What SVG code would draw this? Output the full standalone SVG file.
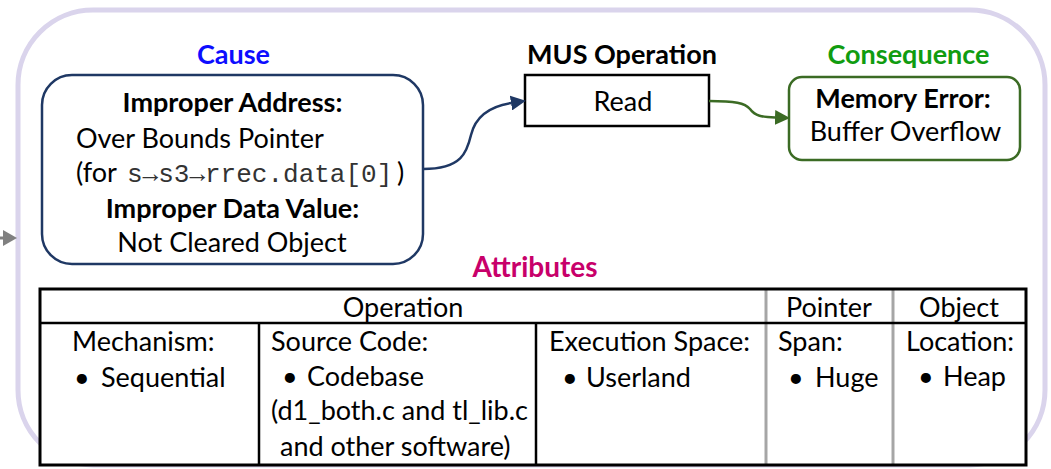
<svg xmlns="http://www.w3.org/2000/svg" width="1051" height="469" viewBox="0 0 1051 469">
  <style>
    text { font-family: Lato, "Open Sans", "Liberation Sans", sans-serif; font-size: 27px; fill: #000; }
    .b { font-weight: bold; }
    .mid { text-anchor: middle; }
    .mono { font-family: "Liberation Mono", "DejaVu Sans Mono", monospace; font-size: 26px; fill: #333; }
    .frame { fill: none; stroke: #dad4ec; stroke-width: 5; }
    .cause { fill: #fff; stroke: #1f3864; stroke-width: 2.5; }
    .op { fill: #fff; stroke: #000; stroke-width: 2.5; }
    .cons { fill: #fff; stroke: #3b6b24; stroke-width: 2.5; }
    .grid { stroke: #000; stroke-width: 2.5; fill: none; }
    .grid-soft { stroke: #a6a6a6; stroke-width: 3; fill: none; }
  </style>
  <defs>
    <marker id="arrNavy" viewBox="0 0 10 10" refX="0" refY="5" markerWidth="15" markerHeight="15" markerUnits="userSpaceOnUse" orient="auto">
      <path d="M0,0 L10,5 L0,10 z" fill="#1f3864"/>
    </marker>
    <marker id="arrGreen" viewBox="0 0 10 10" refX="0" refY="5" markerWidth="15" markerHeight="15" markerUnits="userSpaceOnUse" orient="auto">
      <path d="M0,0 L10,5 L0,10 z" fill="#3b6b24"/>
    </marker>
  </defs>

  <!-- outer frame -->
  <rect class="frame" x="18" y="10" width="1027" height="455" rx="75" ry="75"/>

  <!-- incoming arrow on the left -->
  <g id="incoming">
    <line x1="0" y1="238" x2="4" y2="238" stroke="#808080" stroke-width="3"/>
    <path d="M3,230 L17,238 L3,246 z" fill="#808080"/>
  </g>

  <!-- cause -->
  <g id="cause">
    <text class="b mid" x="233.5" y="64" style="fill:#0d0dff">Cause</text>
    <rect class="cause" x="42" y="75" width="381" height="189" rx="30" ry="30"/>
    <text class="b mid" x="232.5" y="112">Improper Address:</text>
    <text x="76" y="148">Over Bounds Pointer</text>
    <text x="76" y="182">(for <tspan class="mono" x="127">s→s3→rrec.data[0]</tspan><tspan x="397">)</tspan></text>
    <text class="b mid" x="232.5" y="218">Improper Data Value:</text>
    <text class="mid" x="232" y="252">Not Cleared Object</text>
  </g>

  <!-- MUS operation -->
  <g id="operation">
    <text class="b mid" x="622" y="64">MUS Operation</text>
    <rect class="op" x="525" y="75" width="184" height="51"/>
    <text class="mid" x="623" y="111">Read</text>
  </g>

  <!-- consequence -->
  <g id="consequence">
    <text class="b mid" x="908.5" y="64" style="fill:#109c10">Consequence</text>
    <rect class="cons" x="789" y="77" width="231" height="83" rx="13" ry="13"/>
    <text class="b mid" x="903" y="108">Memory Error:</text>
    <text class="mid" x="905.5" y="141">Buffer Overflow</text>
  </g>

  <!-- connectors -->
  <g id="connectors" fill="none" stroke-width="2.5">
    <path d="M423,169 C462,169 467,152 471,135 C476,114 492,106 511,103" stroke="#1f3864" marker-end="url(#arrNavy)"/>
    <path d="M709,101 C735,101 745,103 750,109 C755,116 762,117 775,117.5" stroke="#3b6b24" marker-end="url(#arrGreen)"/>
  </g>

  <!-- attributes table -->
  <g id="attributes">
    <text class="b mid" x="535" y="277" style="fill:#c8006a;font-size:28px">Attributes</text>
    <rect x="40" y="289" width="986" height="176" fill="#fff"/>
    <line class="grid-soft" x1="766" y1="289" x2="766" y2="465"/>
    <line class="grid-soft" x1="893" y1="289" x2="893" y2="465"/>
    <line class="grid" x1="259" y1="323" x2="259" y2="465"/>
    <line class="grid" x1="536" y1="323" x2="536" y2="465"/>
    <line class="grid" x1="40" y1="323" x2="1026" y2="323"/>
    <rect class="grid" x="40" y="289" width="986" height="176" style="stroke-width:3"/>

    <text class="mid" x="403" y="317">Operation</text>
    <text class="mid" x="829" y="317">Pointer</text>
    <text class="mid" x="959" y="317">Object</text>

    <text x="72" y="351">Mechanism:</text>
    <text x="74" y="387">•</text><text x="101" y="387">Sequential</text>

    <text x="271" y="351">Source Code:</text>
    <text x="282" y="386">•</text><text x="307" y="386">Codebase</text>
    <text x="271" y="420" textLength="257" lengthAdjust="spacingAndGlyphs">(d1_both.c and tl_lib.c</text>
    <text x="280" y="456">and other software)</text>

    <text x="549" y="351">Execution Space:</text>
    <text x="562" y="387">•</text><text x="586" y="387">Userland</text>

    <text x="778" y="351">Span:</text>
    <text x="788" y="387">•</text><text x="815" y="387">Huge</text>

    <text x="906" y="351">Location:</text>
    <text x="918" y="386">•</text><text x="943" y="386">Heap</text>
  </g>
</svg>
